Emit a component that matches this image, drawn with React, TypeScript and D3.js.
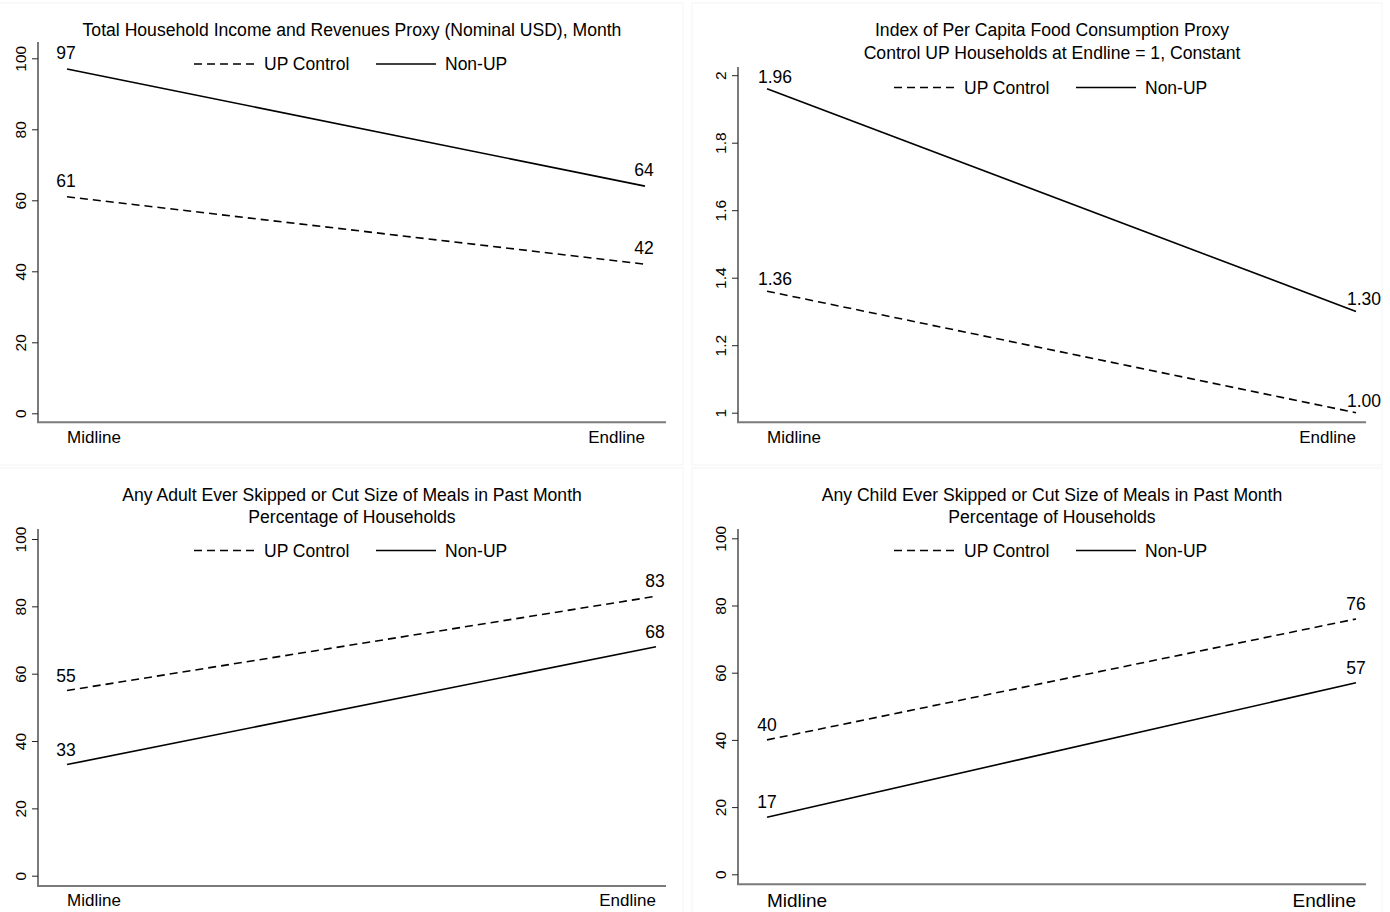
import React, { useEffect, useRef } from 'react';
import * as d3 from 'd3';

const periods = ['Midline', 'Endline'];
const seriesNames = ['UP Control', 'Non-UP'];

const incomeUpControl = [61, 42];
const incomeNonUp = [97, 64];
const foodUpControl = [1.36, 1.0];
const foodNonUp = [1.96, 1.3];
const adultUpControl = [55, 83];
const adultNonUp = [33, 68];
const childUpControl = [40, 76];
const childNonUp = [17, 57];

const pctTicks = [0, 20, 40, 60, 80, 100];
const foodTicks = [1, 1.2, 1.4, 1.6, 1.8, 2];

const titles = [
  ['Total Household Income and Revenues Proxy (Nominal USD), Month'],
  ['Index of Per Capita Food Consumption Proxy', 'Control UP Households at Endline = 1, Constant'],
  ['Any Adult Ever Skipped or Cut Size of Meals in Past Month', 'Percentage of Households'],
  ['Any Child Ever Skipped or Cut Size of Meals in Past Month', 'Percentage of Households'],
];

const FONT = '"Liberation Sans", Arial, Helvetica, sans-serif';

// layout of each of the four graphs (panel offset + inner geometry)
const panels = [
  {
    ox: 0, oy: 0, up: incomeUpControl, non: incomeNonUp, ticks: pctTicks, domain: [0, 100],
    yRange: [413.3, 58.3], axisTop: 42, xAxisY: 422.3, titleY: [36], legendY: 64,
    fmt: d3.format('.0f'), tickFmt: d3.format('d'), lblDx: -1, lblDy: -10, xLabelY: 443, xLabelSize: 17,
  },
  {
    ox: 700, oy: 0, up: foodUpControl, non: foodNonUp, ticks: foodTicks, domain: [1, 2],
    yRange: [412.7, 75.2], axisTop: 67, xAxisY: 422.3, titleY: [36, 59], legendY: 87.5,
    fmt: d3.format('.2f'), tickFmt: (d) => String(d), lblDx: 8, lblDy: -6, xLabelY: 443, xLabelSize: 17,
  },
  {
    ox: 0, oy: 464, up: adultUpControl, non: adultNonUp, ticks: pctTicks, domain: [0, 100],
    yRange: [411.7, 75], axisTop: 65, xAxisY: 422, titleY: [36.7, 59.3], legendY: 86.5,
    fmt: d3.format('.0f'), tickFmt: d3.format('d'), lblDx: -1, lblDy: -9, xLabelY: 442, xLabelSize: 17,
  },
  {
    ox: 700, oy: 464, up: childUpControl, non: childNonUp, ticks: pctTicks, domain: [0, 100],
    yRange: [410.3, 74.3], axisTop: 65, xAxisY: 420.3, titleY: [36.7, 59.3], legendY: 86.5,
    fmt: d3.format('.0f'), tickFmt: d3.format('d'), lblDx: 0, lblDy: -9, xLabelY: 443, xLabelSize: 19,
  },
];

const App = () => {
  const svgRef = useRef(null);

  useEffect(() => {
    const svg = d3.select(svgRef.current);
    svg.selectAll('*').remove();

    panels.forEach((p, i) => {
      const g = svg.append('g').attr('transform', `translate(${p.ox},${p.oy})`);

      // faint frame of each exported graph
      g.append('rect')
        .attr('x', p.ox === 0 ? -1 : -8)
        .attr('y', p.oy === 0 ? 3 : 4)
        .attr('width', p.ox === 0 ? 684 : 690)
        .attr('height', p.oy === 0 ? 462 : 460)
        .attr('fill', 'none')
        .attr('stroke', '#f4f4f4');

      const x = d3.scalePoint().domain(periods).range([67, i === 0 ? 645 : 656]);
      const y = d3.scaleLinear().domain(p.domain).range(p.yRange);
      const axisX = 38;

      // titles
      titles[i].forEach((t, k) => {
        g.append('text')
          .attr('x', 352)
          .attr('y', p.titleY[k])
          .attr('text-anchor', 'middle')
          .attr('font-size', 17.6)
          .attr('fill', '#000')
          .text(t);
      });

      // y axis
      const yAxis = d3.axisLeft(y).tickValues(p.ticks).tickSize(6).tickSizeOuter(0).tickFormat(p.tickFmt);
      const ya = g.append('g').attr('transform', `translate(${axisX},0)`).call(yAxis);
      ya.select('.domain').remove();
      ya.selectAll('line').attr('stroke', '#222').attr('stroke-width', 1);
      ya.selectAll('text')
        .attr('font-size', 15.5)
        .attr('font-family', FONT)
        .attr('fill', '#000')
        .attr('text-anchor', 'middle')
        .attr('dy', 0)
        .attr('x', 0)
        .attr('transform', 'translate(-12,0) rotate(-90)');
      g.append('line')
        .attr('x1', axisX).attr('x2', axisX)
        .attr('y1', p.axisTop).attr('y2', p.xAxisY)
        .attr('stroke', '#222').attr('stroke-width', 1.2);

      // x axis line
      g.append('line')
        .attr('x1', axisX - 1).attr('x2', 666)
        .attr('y1', p.xAxisY).attr('y2', p.xAxisY)
        .attr('stroke', '#7a7a7a').attr('stroke-width', 2);

      // x labels: first left aligned, last right aligned on the point
      periods.forEach((per, k) => {
        g.append('text')
          .attr('x', x(per))
          .attr('y', p.xLabelY)
          .attr('text-anchor', k === 0 ? 'start' : 'end')
          .attr('font-size', p.xLabelSize)
          .attr('fill', '#000')
          .text(per);
      });

      const line = d3.line().x((d, k) => x(periods[k])).y((d) => y(d));

      [p.up, p.non].forEach((vals, s) => {
        g.append('path')
          .datum(vals)
          .attr('d', line)
          .attr('fill', 'none')
          .attr('stroke', '#000')
          .attr('stroke-width', 1.6)
          .attr('stroke-dasharray', s === 0 ? '8,5' : null);

        g.selectAll(null)
          .data(vals)
          .enter()
          .append('text')
          .attr('x', (d, k) => x(periods[k]) + p.lblDx)
          .attr('y', (d) => y(d) + p.lblDy)
          .attr('text-anchor', 'middle')
          .attr('font-size', 17.5)
          .attr('fill', '#000')
          .text((d) => p.fmt(d));
      });

      // legend
      const legend = [
        { x1: 194, x2: 254, tx: 264, dash: '8,5' },
        { x1: 376, x2: 436, tx: 445, dash: null },
      ];
      legend.forEach((l, s) => {
        g.append('line')
          .attr('x1', l.x1).attr('x2', l.x2)
          .attr('y1', p.legendY).attr('y2', p.legendY)
          .attr('stroke', '#000').attr('stroke-width', 1.6)
          .attr('stroke-dasharray', l.dash);
        g.append('text')
          .attr('x', l.tx)
          .attr('y', p.legendY + 6)
          .attr('font-size', 17.5)
          .attr('fill', '#000')
          .text(seriesNames[s]);
      });
    });
  }, []);

  return (
    <svg
      ref={svgRef}
      width={1390}
      height={912}
      style={{ position: 'absolute', left: 0, top: 0, background: '#fff', fontFamily: FONT }}
    />
  );
};

export default App;
